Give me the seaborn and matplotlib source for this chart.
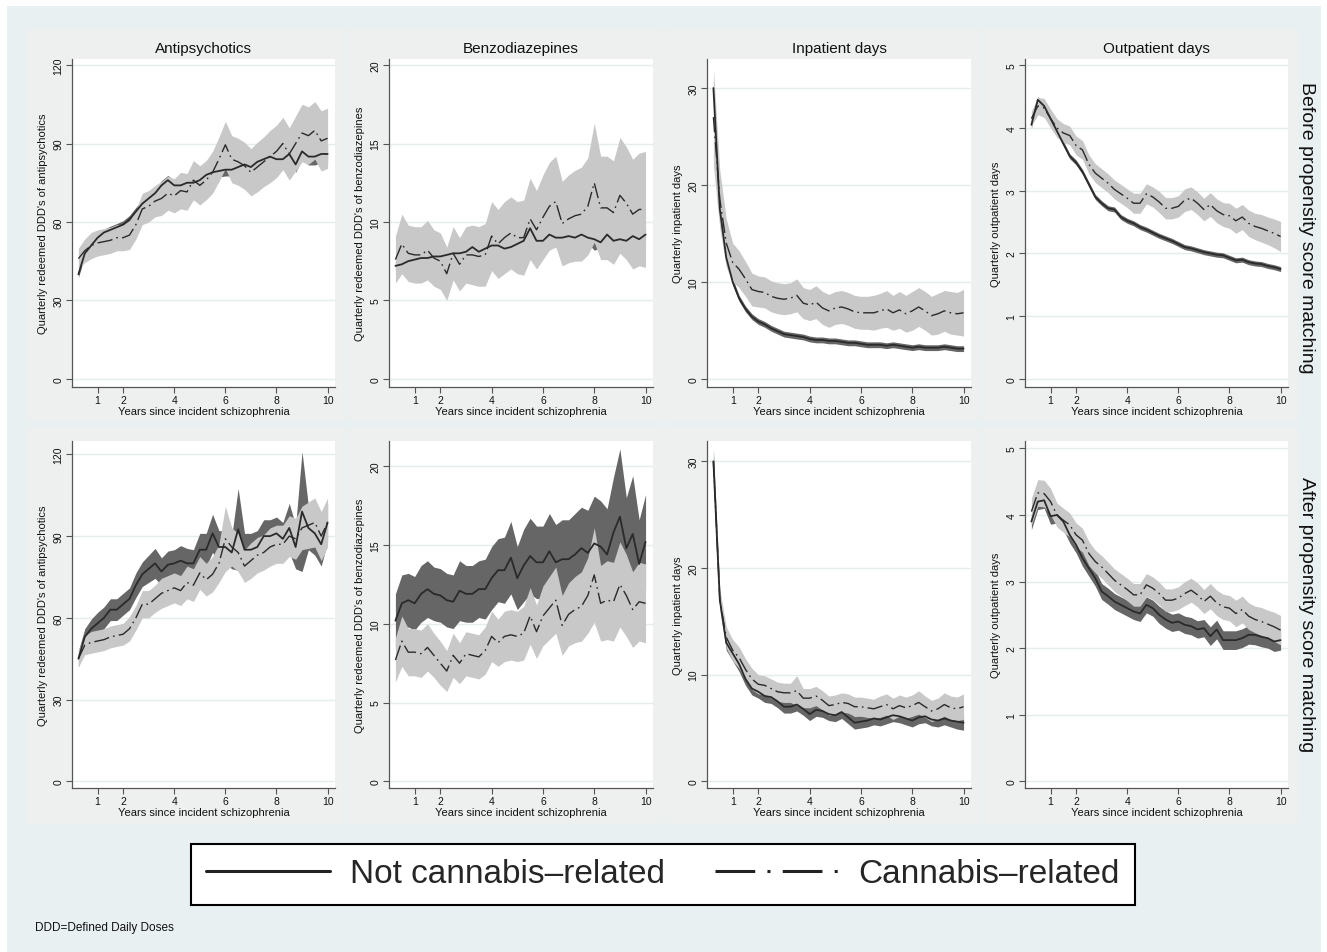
import matplotlib
matplotlib.use("Agg")
import matplotlib.pyplot as plt
import seaborn as sns
import numpy as np
import pandas as pd
from matplotlib.patches import Rectangle
from matplotlib.lines import Line2D

sns.set_theme(style="white")
plt.rcParams['font.family'] = ['Liberation Sans', 'DejaVu Sans']

# ---------------- data ----------------
years = [0.25, 0.5, 0.75, 1.0, 1.25, 1.5, 1.75, 2.0, 2.25, 2.5, 2.75, 3.0, 3.25, 3.5, 3.75, 4.0,
         4.25, 4.5, 4.75, 5.0, 5.25, 5.5, 5.75, 6.0, 6.25, 6.5, 6.75, 7.0, 7.25, 7.5, 7.75, 8.0,
         8.25, 8.5, 8.75, 9.0, 9.25, 9.5, 9.75, 10.0]

outcomes = ["Antipsychotics", "Benzodiazepines", "Inpatient days", "Outpatient days"]
ylabels = ["Quarterly redeemed DDD's of antipsychotics", "Quarterly redeemed DDD's of benzodiazepines",
           "Quarterly inpatient days", "Quarterly outpatient days"]
yticks = [[0, 30, 60, 90, 120], [0, 5, 10, 15, 20], [0, 10, 20, 30], [0, 1, 2, 3, 4, 5]]
xticks = [1, 2, 4, 6, 8, 10]
row_labels = ["Before propensity score matching", "After propensity score matching"]
legend_labels = ["Not cannabis\u2013related", "Cannabis\u2013related"]

# Before matching
ap_pre_nc = [40, 48, 51, 54, 56, 57, 58, 59, 61, 64, 67, 69, 71, 74, 76, 74, 74, 75, 75, 76,
             78, 79, 79.5, 80, 80, 81, 82, 81, 83, 84, 85, 84, 84, 86, 82, 87, 85, 85, 86, 86]
ap_pre_nc_hw = [1.2, 1.2, 1.2, 1.3, 1.3, 1.4, 1.4, 1.5, 1.5, 1.6, 1.6, 1.7, 1.7, 1.8, 1.8, 1.9, 1.9, 2.0, 2.0, 2.1,
                2.1, 2.2, 2.3, 2.4, 2.4, 2.5, 2.5, 2.6, 2.6, 2.7, 2.8, 2.8, 2.9, 3.0, 3.0, 3.1, 3.2, 3.2, 3.3, 3.4]
ap_pre_c = [46, 49, 51, 52, 52.5, 53, 54, 54, 55, 59, 65, 66, 68, 69, 71, 70, 72, 71.5, 76, 74,
            76, 79, 84, 89.5, 84, 83, 81.5, 79, 81, 83, 85, 87, 90, 86, 90, 94, 93, 95, 91, 92]
ap_pre_c_hw = [4, 4.5, 5, 5, 5, 5, 5, 5, 5.5, 5.5, 6, 6, 6, 6.5, 6.5, 6.5, 7, 7, 7.5, 7.5,
               7.5, 8, 8.5, 9, 9, 9, 9, 9, 9.5, 9.5, 10, 10, 10, 10, 10.5, 11, 11, 11, 11.5, 11.5]

bz_pre_nc = [7.2, 7.3, 7.5, 7.6, 7.7, 7.7, 7.8, 7.8, 7.9, 8.0, 8.0, 8.1, 8.4, 8.1, 8.3, 8.5, 8.5, 8.3, 8.4, 8.6,
             8.8, 9.6, 8.8, 8.8, 9.2, 9.0, 9.0, 9.1, 9.0, 9.2, 9.0, 8.9, 8.7, 9.2, 8.8, 8.9, 8.8, 9.1, 8.9, 9.2]
bz_pre_nc_hw = [0.25, 0.25, 0.25, 0.25, 0.25, 0.25, 0.25, 0.25, 0.25, 0.25, 0.28, 0.28, 0.28, 0.28, 0.28, 0.3, 0.3, 0.3, 0.3, 0.3,
                0.32, 0.32, 0.32, 0.32, 0.33, 0.33, 0.33, 0.34, 0.34, 0.35, 0.35, 0.7, 0.36, 0.36, 0.37, 0.37, 0.38, 0.38, 0.39, 0.4]
bz_pre_c = [7.6, 8.6, 8.0, 7.9, 7.9, 8.2, 7.7, 7.5, 6.7, 8.0, 7.3, 7.9, 7.9, 7.8, 7.9, 9.1, 8.6, 9.0, 9.3, 9.0,
            9.0, 10.2, 9.5, 10.3, 11.0, 11.3, 9.9, 10.2, 10.4, 10.5, 11.0, 12.5, 10.9, 10.9, 10.6, 11.7, 11.2, 10.5, 10.8, 10.8]
bz_pre_c_hw = [1.5, 1.9, 1.8, 1.8, 1.8, 1.9, 1.8, 1.8, 1.7, 1.7, 1.7, 1.8, 1.9, 1.9, 2.0, 2.2, 2.2, 2.3, 2.3, 2.3,
               2.4, 2.6, 2.5, 2.7, 2.8, 2.9, 2.7, 2.8, 2.9, 3.0, 3.1, 3.8, 3.3, 3.3, 3.3, 3.7, 3.6, 3.5, 3.6, 3.7]

ip_pre_nc = [30, 17.5, 12.5, 10.0, 8.3, 7.2, 6.4, 5.9, 5.6, 5.2, 4.9, 4.6, 4.5, 4.4, 4.3, 4.1, 4.0, 4.0, 3.9, 3.9,
             3.8, 3.7, 3.7, 3.6, 3.5, 3.5, 3.5, 3.4, 3.5, 3.4, 3.3, 3.2, 3.3, 3.2, 3.2, 3.2, 3.3, 3.2, 3.1, 3.1]
ip_pre_nc_hw = [0.8, 0.5, 0.4, 0.35, 0.3, 0.3, 0.3, 0.3, 0.3, 0.3, 0.3, 0.3, 0.3, 0.3, 0.3, 0.3, 0.3, 0.3, 0.3, 0.3,
                0.3, 0.3, 0.3, 0.3, 0.3, 0.3, 0.3, 0.3, 0.3, 0.3, 0.3, 0.3, 0.3, 0.3, 0.3, 0.3, 0.3, 0.3, 0.3, 0.3]
ip_pre_c = [27, 18.5, 14.0, 12.0, 11.3, 10.3, 9.2, 9.0, 8.9, 8.5, 8.3, 8.2, 8.3, 8.6, 7.8, 7.6, 7.9, 7.3, 7.0, 7.3,
            7.4, 7.2, 6.9, 6.8, 6.8, 6.8, 7.0, 7.2, 6.8, 7.1, 6.7, 7.0, 7.4, 7.0, 6.5, 6.7, 7.0, 6.8, 6.7, 6.8]
ip_pre_c_hw = [5, 3, 2.5, 2.0, 1.9, 1.8, 1.7, 1.6, 1.6, 1.6, 1.6, 1.6, 1.6, 1.7, 1.6, 1.6, 1.7, 1.7, 1.7, 1.7,
               1.7, 1.7, 1.7, 1.7, 1.7, 1.8, 1.8, 1.9, 1.8, 1.9, 1.9, 2.0, 2.0, 2.0, 2.0, 2.1, 2.1, 2.2, 2.2, 2.4]

op_pre_nc = [4.05, 4.45, 4.35, 4.15, 3.95, 3.75, 3.55, 3.45, 3.3, 3.1, 2.9, 2.8, 2.72, 2.7, 2.58, 2.52, 2.48, 2.42, 2.38, 2.33,
             2.28, 2.24, 2.2, 2.15, 2.1, 2.08, 2.05, 2.02, 2.0, 1.98, 1.97, 1.93, 1.89, 1.9, 1.86, 1.84, 1.83, 1.8, 1.78, 1.75]
op_pre_nc_hw = [0.05, 0.05, 0.05, 0.05, 0.04, 0.04, 0.04, 0.04, 0.04, 0.04, 0.04, 0.04, 0.04, 0.04, 0.04, 0.04, 0.04, 0.04, 0.04, 0.04,
                0.04, 0.04, 0.04, 0.04, 0.04, 0.04, 0.04, 0.04, 0.04, 0.04, 0.04, 0.04, 0.04, 0.04, 0.04, 0.04, 0.04, 0.04, 0.04, 0.04]
op_pre_c = [4.15, 4.35, 4.32, 4.15, 4.0, 3.92, 3.88, 3.72, 3.65, 3.42, 3.28, 3.2, 3.12, 3.02, 2.95, 2.88, 2.8, 2.8, 2.95, 2.9,
            2.82, 2.72, 2.72, 2.75, 2.85, 2.88, 2.8, 2.7, 2.78, 2.68, 2.62, 2.6, 2.52, 2.58, 2.48, 2.43, 2.4, 2.36, 2.32, 2.27]
op_pre_c_hw = [0.12, 0.14, 0.15, 0.15, 0.15, 0.15, 0.15, 0.15, 0.15, 0.15, 0.15, 0.15, 0.15, 0.15, 0.15, 0.15, 0.16, 0.16, 0.16, 0.16,
               0.17, 0.17, 0.17, 0.17, 0.18, 0.18, 0.18, 0.18, 0.19, 0.19, 0.19, 0.2, 0.2, 0.2, 0.21, 0.21, 0.22, 0.22, 0.23, 0.24]

# After matching
ap_post_nc = [45, 53, 56, 58, 60, 63, 63, 65, 67, 72, 76, 78, 80, 77, 79.5, 80, 81, 80, 80, 85,
              85, 91, 86, 86, 84, 92.5, 85, 85, 86, 90, 90, 91, 89, 93, 86, 99, 93, 91, 87, 95]
ap_post_nc_hw = [3, 3, 3.5, 4, 4, 4, 4, 4, 4, 4.5, 4.5, 5, 5.5, 5, 5, 5, 5.5, 5.5, 5, 6,
                 6, 7, 6, 6, 6, 15, 6, 6, 6, 6, 6, 6, 6, 9, 8, 22, 8, 8, 8, 7]
ap_post_c = [45, 50, 51, 51.5, 52, 53, 53.5, 54, 56, 60, 65, 65, 67, 69, 70, 71, 70, 73, 72, 76.5,
             74, 76, 80, 89, 86, 84, 79, 81, 83, 84, 86, 87, 87, 90, 89, 93, 94, 95, 90, 95]
ap_post_c_hw = [3, 3.5, 4, 4, 4, 4, 4, 4, 4.5, 4.5, 5, 5, 5, 5.5, 5.5, 5.5, 5.5, 6, 6, 6,
                6, 6.5, 7, 12, 7, 7, 6, 6.5, 6.5, 6.5, 7, 7, 7, 7.5, 7.5, 8, 8.5, 9, 9, 9]

bz_post_nc = [10.2, 11.3, 11.5, 11.3, 11.9, 12.2, 11.9, 11.8, 11.5, 11.4, 12.1, 11.9, 11.9, 12.2, 12.2, 12.9, 13.4, 13.4, 14.2, 12.9,
              13.7, 14.3, 13.9, 13.9, 14.6, 13.9, 14.1, 14.1, 14.4, 14.8, 14.5, 15.1, 14.9, 14.4, 15.8, 16.8, 14.8, 15.7, 13.8, 15.2]
bz_post_nc_hw = [1.7, 1.8, 1.7, 1.7, 1.8, 1.8, 1.7, 1.7, 1.7, 1.7, 1.9, 1.8, 1.8, 1.8, 1.9, 2.0, 2.0, 2.1, 2.3, 2.0,
                 2.3, 2.4, 2.3, 2.3, 2.4, 2.4, 2.5, 2.5, 2.6, 2.6, 2.7, 3.0, 2.9, 2.9, 3.5, 4.3, 3.2, 3.7, 2.8, 3.0]
bz_post_c = [7.7, 8.9, 8.2, 8.2, 8.1, 8.5, 8.0, 7.5, 7.0, 8.0, 7.5, 8.1, 8.0, 7.9, 8.3, 9.2, 8.8, 9.2, 9.3, 9.2,
             9.4, 10.5, 9.5, 10.5, 11.0, 11.5, 9.9, 10.6, 10.9, 11.1, 11.8, 13.1, 11.3, 11.5, 11.4, 12.5, 11.8, 10.9, 11.4, 11.3]
bz_post_c_hw = [1.4, 1.6, 1.5, 1.5, 1.5, 1.5, 1.4, 1.4, 1.3, 1.4, 1.3, 1.4, 1.4, 1.4, 1.5, 1.6, 1.5, 1.6, 1.6, 1.6,
                1.7, 1.8, 1.7, 1.9, 2.0, 2.1, 1.9, 2.0, 2.1, 2.2, 2.4, 3.0, 2.4, 2.5, 2.5, 2.7, 2.6, 2.4, 2.5, 2.5]

ip_post_nc = [30, 17, 13, 12, 11, 9.6, 8.7, 8.4, 8.0, 7.9, 7.5, 7.0, 7.0, 7.2, 6.8, 6.3, 6.7, 6.6, 6.3, 6.2,
              6.5, 6.0, 5.5, 5.6, 5.7, 5.9, 5.8, 6.0, 6.2, 6.1, 5.9, 5.7, 6.0, 6.1, 5.8, 5.7, 5.9, 5.7, 5.6, 5.5]
ip_post_nc_hw = [1.0, 0.8, 0.7, 0.7, 0.7, 0.6, 0.6, 0.6, 0.6, 0.6, 0.6, 0.6, 0.6, 0.6, 0.6, 0.6, 0.6, 0.6, 0.6, 0.6,
                 0.6, 0.6, 0.6, 0.6, 0.6, 0.6, 0.6, 0.6, 0.6, 0.6, 0.6, 0.6, 0.6, 0.6, 0.6, 0.6, 0.6, 0.6, 0.7, 0.7]
ip_post_c = [30, 17, 13.5, 12.3, 11.6, 10.5, 9.6, 9.1, 9.0, 8.7, 8.4, 8.3, 8.3, 8.5, 7.8, 7.8, 8.0, 7.6, 7.1, 7.2,
             7.4, 7.3, 7.0, 7.0, 6.9, 6.8, 7.0, 7.2, 6.8, 7.1, 6.9, 7.1, 7.4, 7.0, 6.6, 6.8, 7.2, 6.9, 6.8, 7.0]
ip_post_c_hw = [1.2, 1.0, 1.0, 1.0, 1.0, 1.0, 1.0, 0.9, 0.9, 0.9, 0.9, 0.9, 0.9, 1.4, 0.9, 0.9, 0.9, 0.9, 0.9, 0.9,
                0.9, 0.9, 0.9, 0.9, 0.9, 0.9, 1.0, 1.0, 1.0, 1.0, 1.0, 1.0, 1.1, 1.0, 1.0, 1.0, 1.1, 1.1, 1.1, 1.2]

op_post_nc = [3.9, 4.2, 4.22, 3.98, 4.0, 3.9, 3.7, 3.55, 3.35, 3.2, 3.05, 2.85, 2.78, 2.7, 2.65, 2.6, 2.55, 2.52, 2.65, 2.6,
              2.5, 2.43, 2.38, 2.4, 2.35, 2.33, 2.28, 2.3, 2.18, 2.28, 2.12, 2.12, 2.12, 2.15, 2.2, 2.2, 2.17, 2.15, 2.1, 2.12]
op_post_nc_hw = [0.12, 0.12, 0.12, 0.12, 0.12, 0.12, 0.12, 0.12, 0.12, 0.12, 0.12, 0.12, 0.12, 0.12, 0.12, 0.12, 0.12, 0.12, 0.12, 0.12,
                 0.13, 0.13, 0.13, 0.13, 0.13, 0.13, 0.13, 0.13, 0.14, 0.14, 0.14, 0.14, 0.14, 0.14, 0.14, 0.15, 0.15, 0.15, 0.15, 0.15]
op_post_c = [4.05, 4.33, 4.32, 4.2, 4.0, 3.92, 3.85, 3.7, 3.62, 3.42, 3.3, 3.22, 3.12, 3.02, 2.95, 2.88, 2.8, 2.8, 2.95, 2.9,
             2.82, 2.72, 2.72, 2.75, 2.82, 2.87, 2.8, 2.7, 2.78, 2.68, 2.62, 2.6, 2.52, 2.58, 2.48, 2.43, 2.4, 2.36, 2.32, 2.27]
op_post_c_hw = [0.2, 0.2, 0.2, 0.2, 0.18, 0.18, 0.18, 0.18, 0.18, 0.18, 0.17, 0.17, 0.17, 0.17, 0.17, 0.17, 0.17, 0.17, 0.17, 0.17,
                0.17, 0.17, 0.17, 0.17, 0.18, 0.18, 0.18, 0.18, 0.19, 0.19, 0.19, 0.19, 0.2, 0.2, 0.2, 0.2, 0.21, 0.21, 0.22, 0.22]

panels = [
    [(ap_pre_nc, ap_pre_nc_hw, ap_pre_c, ap_pre_c_hw), (bz_pre_nc, bz_pre_nc_hw, bz_pre_c, bz_pre_c_hw),
     (ip_pre_nc, ip_pre_nc_hw, ip_pre_c, ip_pre_c_hw), (op_pre_nc, op_pre_nc_hw, op_pre_c, op_pre_c_hw)],
    [(ap_post_nc, ap_post_nc_hw, ap_post_c, ap_post_c_hw), (bz_post_nc, bz_post_nc_hw, bz_post_c, bz_post_c_hw),
     (ip_post_nc, ip_post_nc_hw, ip_post_c, ip_post_c_hw), (op_post_nc, op_post_nc_hw, op_post_c, op_post_c_hw)],
]

# ---------------- layout ----------------
W, H = 1327, 953
BG = "#E9F0F2"
PANEL_BG = "#EEF0F0"
DARK = "#666666"
LIGHT = "#C8C8C8"
LINE = "#2A2A2A"
AXC = "#555555"

fig = plt.figure(figsize=(W / 100, H / 100), dpi=100)
fig.patch.set_facecolor("white")

def fx(px):
    return px / W

def fy(py):
    return 1 - py / H

fig.add_artist(Rectangle((fx(7), 0), fx(1321) - fx(7), fy(7), transform=fig.transFigure,
                         facecolor=BG, edgecolor="none", zorder=-10))

col_px = [(72, 335), (389, 653), (707, 971), (1025, 1288)]
row_px = [(60, 388), (442, 789)]
panel_reg_x = [(27, 345), (347, 663), (665, 981), (983, 1298)]
panel_reg_y = [(30, 422), (428, 824)]
ylims = [[(-3.06, 122.3), (-0.53, 20.4), (-0.86, 33.0), (-0.13, 5.1)],
         [(-2.44, 124.9), (-0.42, 21.6), (-0.62, 31.9), (-0.1, 5.11)]]

for r in range(2):
    for c in range(4):
        x0, x1 = panel_reg_x[c]
        y0, y1 = panel_reg_y[r]
        fig.add_artist(Rectangle((fx(x0), fy(y1)), fx(x1) - fx(x0), fy(y0) - fy(y1),
                                 transform=fig.transFigure, facecolor=PANEL_BG,
                                 edgecolor="none", zorder=-9))

for r in range(2):
    for c in range(4):
        l, rr = col_px[c]
        t, b = row_px[r]
        ax = fig.add_axes([fx(l), fy(b), fx(rr) - fx(l), fy(t) - fy(b)])
        ax.set_facecolor("white")
        nc, nc_hw, cc, cc_hw = panels[r][c]
        nc_a, nch_a, c_a, ch_a = map(np.asarray, (nc, nc_hw, cc, cc_hw))
        ax.fill_between(years, nc_a - nch_a, nc_a + nch_a, color=DARK, lw=0, zorder=2)
        ax.fill_between(years, c_a - ch_a, c_a + ch_a, color=LIGHT, lw=0, zorder=3)
        df = pd.DataFrame({"year": years, "nc": nc, "c": cc})
        sns.lineplot(data=df, x="year", y="nc", ax=ax, color=LINE, linewidth=1.3,
                     estimator=None, errorbar=None, zorder=4)
        sns.lineplot(data=df, x="year", y="c", ax=ax, color=LINE, linewidth=1.0,
                     estimator=None, errorbar=None, zorder=5,
                     linestyle=(0, (11, 3, 1.2, 3)))
        ax.set_xlim(0, 10.29)
        ax.set_ylim(*ylims[r][c])
        ax.set_xticks(xticks)
        ax.set_yticks(yticks[c])
        ax.yaxis.grid(True, color="#E4ECEE", linewidth=1.0)
        ax.xaxis.grid(False)
        ax.set_axisbelow(True)
        for s in ["top", "right"]:
            ax.spines[s].set_visible(False)
        for s in ["left", "bottom"]:
            ax.spines[s].set_color(AXC)
            ax.spines[s].set_linewidth(0.9)
        ax.tick_params(axis="both", which="major", direction="out", length=4, width=0.8,
                       color=AXC, labelsize=7.5, labelcolor="#111111", bottom=True, left=True)
        ax.tick_params(axis="x", pad=1.5)
        ax.tick_params(axis="y", pad=2, labelrotation=90)
        for lbl in ax.get_yticklabels():
            lbl.set_va("center")
        ax.set_xlabel("Years since incident schizophrenia", fontsize=8, labelpad=1, color="#111111")
        ax.set_ylabel(ylabels[c], fontsize=8, labelpad=4, color="#111111")
        if r == 0:
            ax.set_title(outcomes[c], fontsize=11, pad=5, color="#111111")

fig.text(fx(1307), fy(228), row_labels[0], rotation=270, ha="center", va="center", fontsize=14, color="#111111")
fig.text(fx(1307), fy(615), row_labels[1], rotation=270, ha="center", va="center", fontsize=14, color="#111111")

handles = [Line2D([], [], color="#222222", linewidth=2.2),
           Line2D([], [], color="#222222", linewidth=2.2, linestyle=(0, (13, 4, 1, 4)))]
leg = fig.legend(handles=handles, labels=legend_labels, loc="center",
                 bbox_to_anchor=(fx(663), fy(875)), ncol=2, fontsize=24,
                 handlelength=3.7, handletextpad=0.6, columnspacing=1.5,
                 frameon=True, fancybox=False, framealpha=1, borderpad=0.45)
leg.get_frame().set_edgecolor("black")
leg.get_frame().set_linewidth(1.5)
leg.get_frame().set_facecolor("white")

fig.text(fx(35), fy(928), "DDD=Defined Daily Doses", ha="left", va="center", fontsize=8.5, color="#111111")

fig.savefig("out.png", dpi=100)
